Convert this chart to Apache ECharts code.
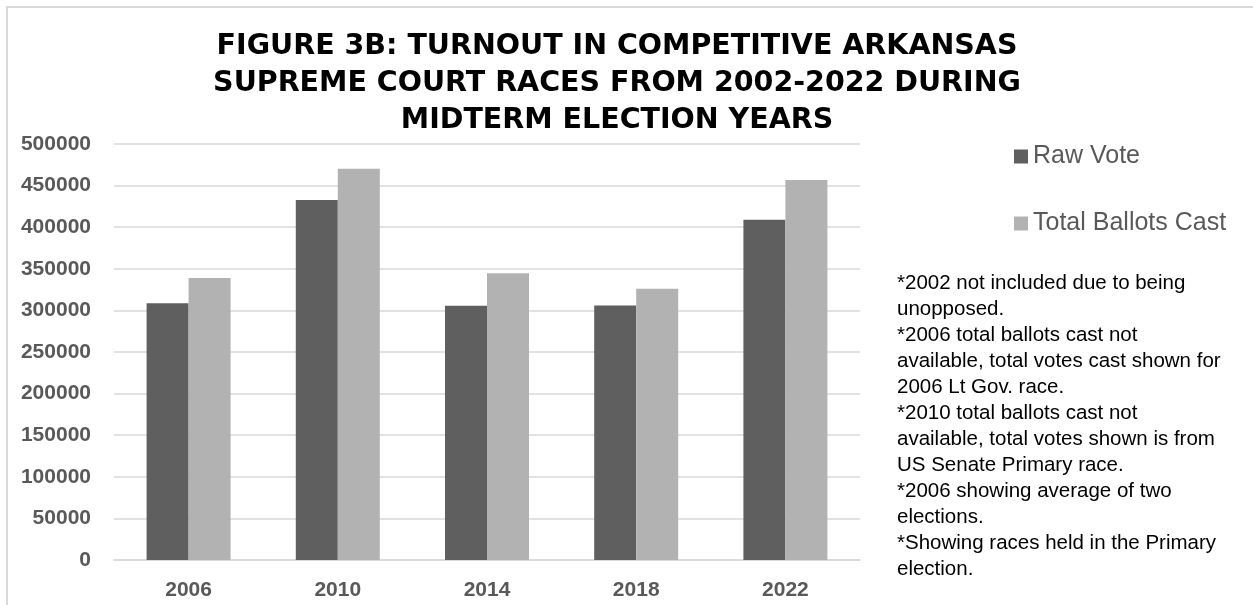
<!DOCTYPE html>
<html>
<head>
<meta charset="utf-8">
<title>Figure 3B</title>
<script src="https://cdn.jsdelivr.net/npm/echarts@6/dist/echarts.min.js"></script>
<style>
  html, body { margin: 0; padding: 0; background: #fff; }
  #main { width: 1253px; height: 605px; }
</style>
</head>
<body>
<div id="main"></div>
<script>
// 数据
const years = ['2006', '2010', '2014', '2018', '2022'];
const rawVote = [308500, 432700, 305600, 306000, 409000];
const totalBallots = [339000, 470300, 344600, 326100, 456700];
const seriesNames = ['Raw Vote', 'Total Ballots Cast'];
const notes = [
  '*2002 not included due to being',
  'unopposed.',
  '*2006 total ballots cast not',
  'available, total votes cast shown for',
  '2006 Lt Gov. race.',
  '*2010 total ballots cast not',
  'available, total votes shown is from',
  'US Senate Primary race.',
  '*2006 showing average of two',
  'elections.',
  '*Showing races held in the Primary',
  'election.'
];
const titleLines = [
  'FIGURE 3B: TURNOUT IN COMPETITIVE ARKANSAS',
  'SUPREME COURT RACES FROM 2002-2022 DURING',
  'MIDTERM ELECTION YEARS'
];

var myChart = echarts.init(document.getElementById('main'));

var option = {
  backgroundColor: '#ffffff',
  animation: false,
  title: {
    text: titleLines.join('\n'),
    left: 617,
    top: 28,
    padding: 0,
    textAlign: 'center',
    textStyle: {
      fontFamily: 'DejaVu Sans',
      fontWeight: 'bold',
      fontSize: 28.5,
      lineHeight: 37,
      color: '#000000'
    }
  },
  legend: {
    orient: 'vertical',
    left: 1014,
    top: 144,
    padding: 0,
    itemWidth: 14,
    itemHeight: 14,
    itemGap: 42,
    icon: 'rect',
    data: seriesNames,
    textStyle: {
      fontFamily: 'Liberation Sans',
      fontSize: 25,
      lineHeight: 24,
      color: '#595959'
    }
  },
  grid: {
    left: 114,
    right: 393,
    top: 144,
    bottom: 45
  },
  xAxis: {
    type: 'category',
    data: years,
    axisTick: { show: false },
    axisLine: { lineStyle: { color: '#d9d9d9', width: 1.5 } },
    axisLabel: {
      margin: 20,
      fontFamily: 'Liberation Sans',
      fontWeight: 'bold',
      fontSize: 21,
      color: '#595959'
    }
  },
  yAxis: {
    type: 'value',
    min: 0,
    max: 500000,
    interval: 50000,
    axisLine: { show: false },
    axisTick: { show: false },
    splitLine: { lineStyle: { color: '#d9d9d9', width: 1.5 } },
    axisLabel: {
      margin: 23,
      fontFamily: 'Liberation Sans',
      fontWeight: 'bold',
      fontSize: 21,
      color: '#595959',
      formatter: (v) => String(v)
    }
  },
  series: [
    {
      name: seriesNames[0],
      type: 'bar',
      data: rawVote,
      barGap: '0%',
      barCategoryGap: '43.7%',
      itemStyle: { color: '#5f5f5f' }
    },
    {
      name: seriesNames[1],
      type: 'bar',
      data: totalBallots,
      itemStyle: { color: '#b2b2b2' }
    }
  ],
  graphic: [
    {
      type: 'rect',
      silent: true,
      shape: { x: 7, y: 7, width: 1400, height: 800 },
      style: { fill: 'none', stroke: '#d9d9d9', lineWidth: 2 }
    },
    {
      type: 'text',
      left: 897,
      top: 270,
      silent: true,
      style: {
        text: notes.join('\n'),
        font: '20.5px "Liberation Sans"',
        lineHeight: 26,
        fill: '#000000'
      }
    }
  ]
};

myChart.setOption(option);
window.onresize = () => {
  myChart.resize();
};
</script>
</body>
</html>
